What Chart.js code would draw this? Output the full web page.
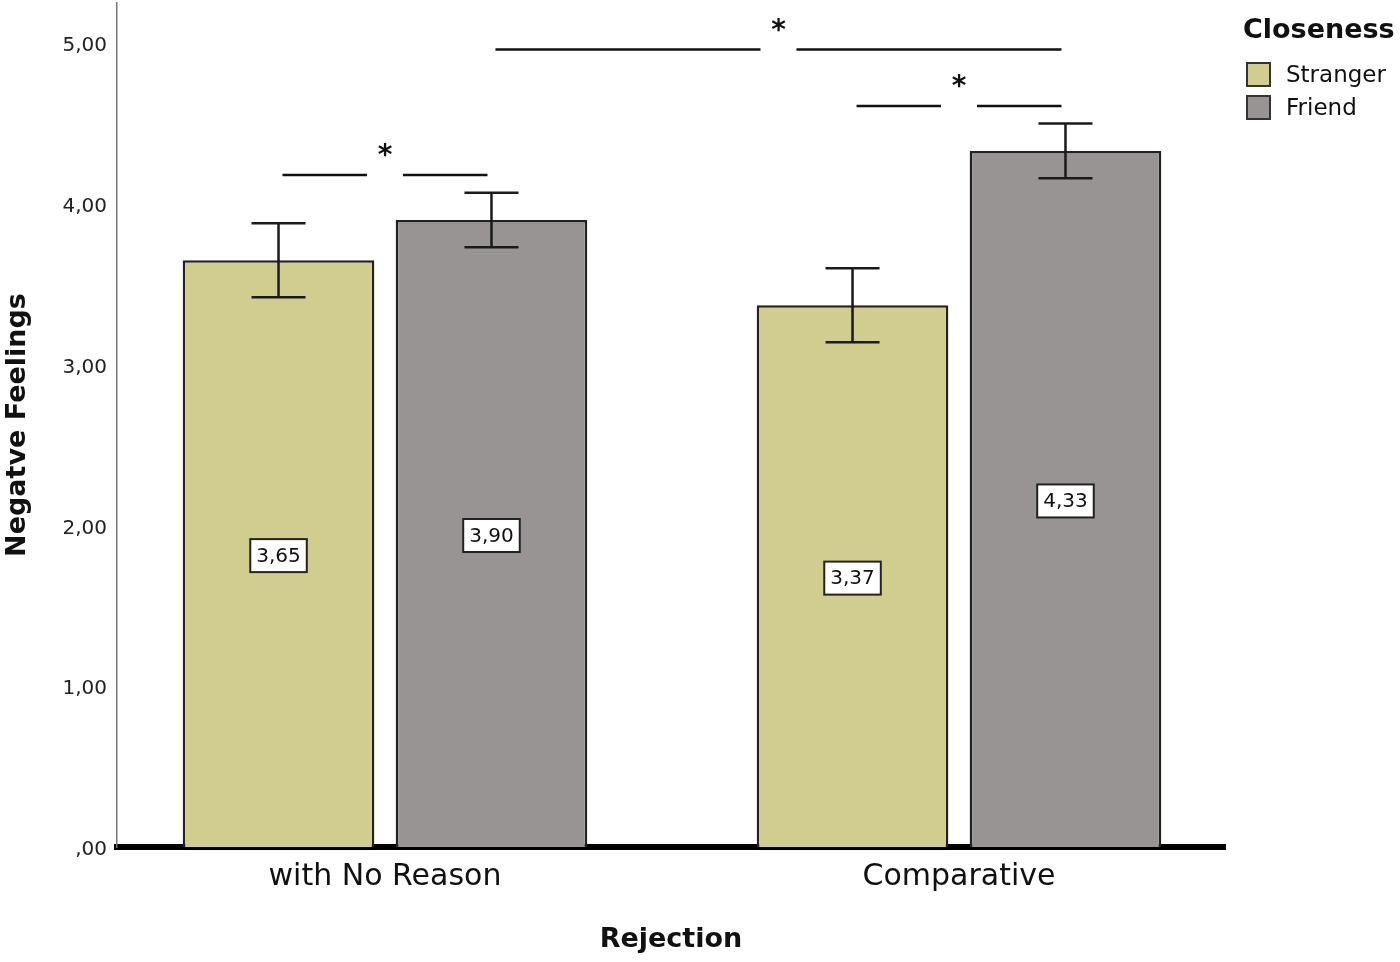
<!DOCTYPE html>
<html>
<head>
<meta charset="utf-8">
<script src="https://cdn.jsdelivr.net/npm/chart.js@4.4.1/dist/chart.umd.min.js"></script>
<style>
  html, body { margin: 0; padding: 0; background: #fff; }
  #wrap { width: 1400px; height: 962px; }
</style>
</head>
<body>
<div id="wrap"><canvas id="chart" width="1400" height="962"></canvas></div>
<script>
// Rejection conditions (x axis)
const categories = ['with No Reason', 'Comparative'];

// Mean negative feelings per closeness group
const strangerMeans = [3.65, 3.37];
const friendMeans = [3.90, 4.33];

// Error bar ends
const strangerLow = [3.42, 3.14];
const strangerHigh = [3.88, 3.60];
const friendLow = [3.73, 4.16];
const friendHigh = [4.07, 4.50];

// y axis ticks
const yTicks = [0, 1, 2, 3, 4, 5];

// Significance brackets: from [dataset, index] to [dataset, index] at a y level
const sigFrom = [[0, 0], [0, 1], [1, 0]];
const sigTo = [[1, 0], [1, 1], [1, 1]];
const sigLevel = [4.18, 4.61, 4.96];

const errLow = [strangerLow, friendLow];
const errHigh = [strangerHigh, friendHigh];

const STRANGER = 'rgb(209, 205, 143)';
const FRIEND = 'rgb(152, 148, 148)';
const FONT = '"DejaVu Sans", sans-serif';

function fmt(v) {
    if (v === 0) return ',00';
    return v.toFixed(2).replace('.', ',');
}

// error bars with caps
const errorBars = {
    id: 'errorBars',
    afterDatasetsDraw(chart) {
        const ctx = chart.ctx;
        const y = chart.scales.y;
        ctx.save();
        ctx.strokeStyle = '#1a1a1a';
        ctx.lineWidth = 2.5;
        chart.data.datasets.forEach((ds, d) => {
            chart.getDatasetMeta(d).data.forEach((bar, i) => {
                const top = y.getPixelForValue(errHigh[d][i]);
                const bot = y.getPixelForValue(errLow[d][i]);
                ctx.beginPath();
                ctx.moveTo(bar.x, top);
                ctx.lineTo(bar.x, bot);
                ctx.moveTo(bar.x - 27, top);
                ctx.lineTo(bar.x + 27, top);
                ctx.moveTo(bar.x - 27, bot);
                ctx.lineTo(bar.x + 27, bot);
                ctx.stroke();
            });
        });
        ctx.restore();
    }
};

// boxed value labels in the middle of each bar
const valueLabels = {
    id: 'valueLabels',
    afterDatasetsDraw(chart) {
        const ctx = chart.ctx;
        const y = chart.scales.y;
        ctx.save();
        ctx.font = '20px ' + FONT;
        ctx.textAlign = 'center';
        ctx.textBaseline = 'middle';
        chart.data.datasets.forEach((ds, d) => {
            chart.getDatasetMeta(d).data.forEach((bar, i) => {
                const v = ds.data[i].y;
                const cy = y.getPixelForValue(v / 2) + 2;
                const txt = fmt(v);
                const w = ctx.measureText(txt).width + 12;
                const h = 33;
                ctx.fillStyle = '#fff';
                ctx.fillRect(bar.x - w / 2, cy - h / 2, w, h);
                ctx.strokeStyle = '#222';
                ctx.lineWidth = 2;
                ctx.strokeRect(bar.x - w / 2, cy - h / 2, w, h);
                ctx.fillStyle = '#111';
                ctx.fillText(txt, bar.x, cy + 1);
            });
        });
        ctx.restore();
    }
};

// significance brackets with stars
const sigBrackets = {
    id: 'sigBrackets',
    afterDatasetsDraw(chart) {
        const ctx = chart.ctx;
        const y = chart.scales.y;
        ctx.save();
        ctx.strokeStyle = '#111';
        ctx.lineWidth = 2.5;
        ctx.fillStyle = '#111';
        ctx.font = 'bold 28px ' + FONT;
        ctx.textAlign = 'center';
        ctx.textBaseline = 'alphabetic';
        sigLevel.forEach((lvl, k) => {
            const a = chart.getDatasetMeta(sigFrom[k][0]).data[sigFrom[k][1]].x + 4;
            const b = chart.getDatasetMeta(sigTo[k][0]).data[sigTo[k][1]].x - 4;
            const py = y.getPixelForValue(lvl);
            const mid = (a + b) / 2;
            ctx.beginPath();
            ctx.moveTo(a, py);
            ctx.lineTo(mid - 18, py);
            ctx.moveTo(mid + 18, py);
            ctx.lineTo(b, py);
            ctx.stroke();
            ctx.fillText('*', mid, py - 11);
        });
        ctx.restore();
    }
};

// legend block top right
const closenessLegend = {
    id: 'closenessLegend',
    afterDraw(chart) {
        const ctx = chart.ctx;
        ctx.save();
        ctx.fillStyle = '#111';
        ctx.textAlign = 'left';
        ctx.textBaseline = 'middle';
        ctx.font = 'bold 27px ' + FONT;
        ctx.fillText('Closeness', 1243, 31);
        ctx.font = '23px ' + FONT;
        chart.data.datasets.forEach((ds, d) => {
            const top = 63 + d * 33;
            ctx.fillStyle = ds.backgroundColor;
            ctx.fillRect(1247, top, 23, 23);
            ctx.strokeStyle = '#333';
            ctx.lineWidth = 2;
            ctx.strokeRect(1247, top, 23, 23);
            ctx.fillStyle = '#111';
            ctx.fillText(ds.label, 1286, top + 13);
        });
        ctx.restore();
    }
};

const ctx = document.getElementById('chart').getContext('2d');
const chart = new Chart(ctx, {
    type: 'bar',
    data: {
        datasets: [{
            label: 'Stranger',
            data: categories.map((c, i) => ({ x: i + 1, y: strangerMeans[i] })),
            backgroundColor: STRANGER
        }, {
            label: 'Friend',
            data: categories.map((c, i) => ({ x: i + 1, y: friendMeans[i] })),
            backgroundColor: FRIEND
        }]
    },
    options: {
        responsive: false,
        animation: false,
        devicePixelRatio: 1,
        layout: { padding: { top: 3, right: 175, left: 0, bottom: 0 } },
        datasets: {
            bar: {
                categoryPercentage: 0.742,
                barPercentage: 0.9,
                borderWidth: 2.5,
                borderColor: '#222',
                borderSkipped: 'start'
            }
        },
        plugins: {
            legend: { display: false },
            tooltip: { enabled: false }
        },
        scales: {
            x: {
                type: 'linear',
                offset: false,
                min: 0.5331,
                max: 2.4634,
                z: 1,
                grid: { display: false, drawTicks: false },
                border: { display: true, color: '#000', width: 6 },
                afterBuildTicks: s => { s.ticks = categories.map((c, i) => ({ value: i + 1 })); },
                afterFit: s => { s.height = 115; s.paddingLeft = 0; s.paddingRight = 0; },
                ticks: {
                    padding: 12,
                    color: '#111',
                    font: { family: FONT, size: 30 },
                    callback: v => categories[Math.round(v) - 1]
                },
                title: {
                    display: true,
                    text: 'Rejection',
                    color: '#111',
                    font: { family: FONT, size: 27, weight: 'bold' },
                    padding: { top: 0, bottom: 6 }
                }
            },
            y: {
                min: 0,
                max: 5.25,
                grid: { display: false, drawTicks: false },
                border: { display: true, color: '#777', width: 1.5 },
                afterBuildTicks: s => { s.ticks = yTicks.map(v => ({ value: v })); },
                afterFit: s => { s.width = 117; s.paddingTop = 0; s.paddingBottom = 0; },
                ticks: {
                    padding: 10,
                    labelOffset: 3,
                    color: '#222',
                    font: { family: FONT, size: 20 },
                    callback: v => fmt(v)
                },
                title: {
                    display: true,
                    text: 'Negatve Feelings',
                    color: '#111',
                    font: { family: FONT, size: 27, weight: 'bold' },
                    padding: { top: 2, bottom: 0 }
                }
            }
        }
    },
    plugins: [errorBars, valueLabels, sigBrackets, closenessLegend]
});
</script>
</body>
</html>
